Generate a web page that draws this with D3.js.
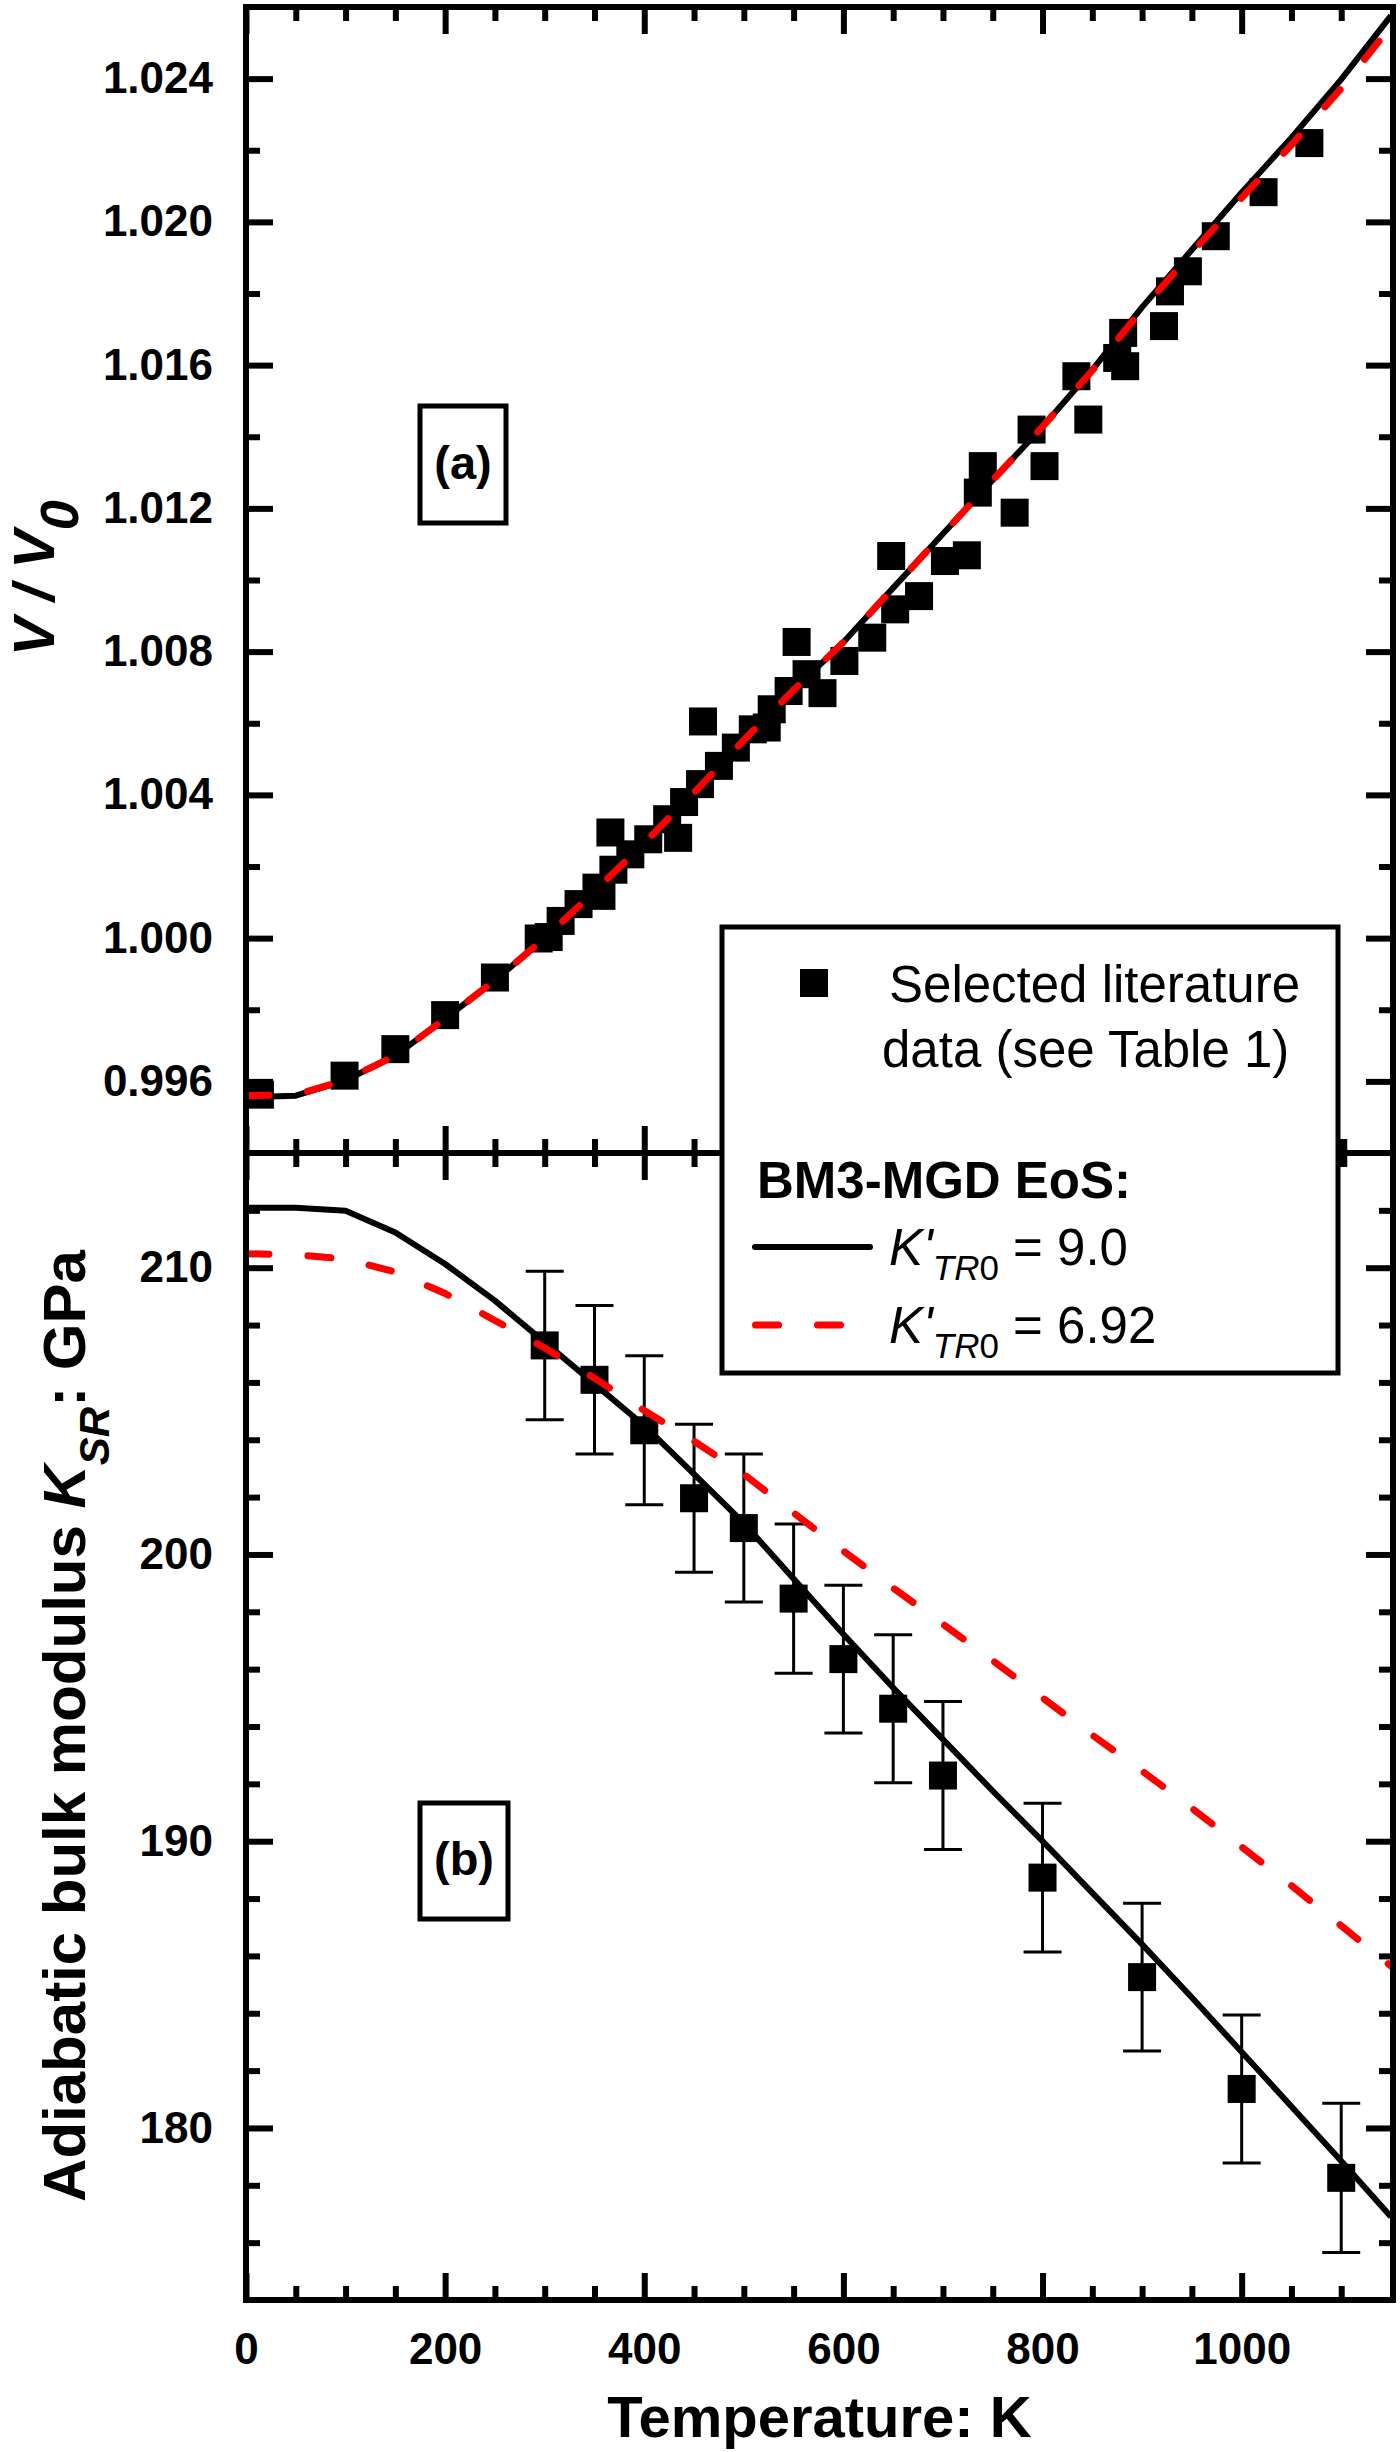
<!DOCTYPE html>
<html><head><meta charset="utf-8">
<script src="https://cdn.jsdelivr.net/npm/d3@7"></script>
<style>html,body{margin:0;padding:0;background:#fff}</style>
</head><body>
<svg id="chart" width="1400" height="2452"></svg>
<script>
// ---------------- data ----------------
const curveT = [0,50,100,150,200,250,300,350,400,450,500,550,600,650,700,750,800,850,900,950,1000,1050,1100,1150];
// V/V0 model curves
const fitV_K90  = [0.99556,0.99560,0.99603,0.99672,0.99775,0.99882,1.00000,1.00130,1.00266,1.00406,1.00553,1.00693,1.00826,1.00978,1.01129,1.01279,1.01428,1.01587,1.01762,1.01922,1.02082,1.02235,1.02398,1.02576];
const fitV_K692 = [0.99560,0.99562,0.99604,0.99672,0.99775,0.99882,1.00000,1.00130,1.00266,1.00406,1.00553,1.00693,1.00826,1.00978,1.01129,1.01279,1.01428,1.01585,1.01755,1.01914,1.02067,1.02215,1.02373,1.02546];
// K_SR model curves (GPa)
const fitK_K90  = [212.09,212.09,211.99,211.23,210.13,208.85,207.40,205.95,204.49,202.80,201.09,199.15,197.22,195.35,193.55,191.75,190.00,188.20,186.40,184.55,182.65,180.75,178.85,176.90];
const fitK_K692 = [210.49,210.45,210.30,209.85,209.10,208.16,207.20,206.15,205.02,203.95,202.80,201.45,200.12,198.83,197.57,196.30,195.00,193.70,192.45,191.15,189.80,188.45,187.05,185.65];
// selected literature data, V/V0
const litT = [14,99,150,200,250,294,304,316,334,352,357,366,369,386,404,423,434,440,456,459,475,492,509,523,528,545,553,563,579,601,629,648,652,676,702,724,735,740,772,789,802,834,846,875,881,883,922,928,946,974,1022,1068,1092];
const litV = [0.99563,0.99616,0.99690,0.99785,0.99890,0.99999,1.00003,1.00048,1.00095,1.00141,1.00118,1.00295,1.00191,1.00234,1.00276,1.00332,1.00280,1.00380,1.00430,1.00605,1.00481,1.00532,1.00583,1.00588,1.00639,1.00690,1.00827,1.00737,1.00684,1.00774,1.00839,1.01067,1.00918,1.00955,1.01053,1.01069,1.01244,1.01318,1.01188,1.01420,1.01318,1.01569,1.01448,1.01620,1.01690,1.01597,1.01709,1.01806,1.01862,1.01960,1.02083,1.02220,0.99400];
// adiabatic bulk modulus data
const ksT   = [300,350,400,450,500,550,600,650,700,800,900,1000,1100];
const ksK   = [207.29,206.09,204.33,201.96,200.92,198.46,196.35,194.62,192.29,188.73,185.26,181.36,178.26];
const ksErr = [2.59,2.59,2.60,2.58,2.58,2.60,2.58,2.58,2.58,2.59,2.58,2.58,2.60];
// ticks
const xMajor = [0,200,400,600,800,1000];
const xMinor = [50,100,150,250,300,350,450,500,550,650,700,750,850,900,950,1050,1100];
const yAMajor = [0.996,1.000,1.004,1.008,1.012,1.016,1.020,1.024];
const yAMinor = [0.998,1.002,1.006,1.010,1.014,1.018,1.022];
const yBMajor = [180,190,200,210];
const yBMinor = [176,178,182,184,186,188,192,194,196,198,202,204,206,208,212];

// ---------------- setup ----------------
const FONT = "'Liberation Sans', Arial, Helvetica, sans-serif";
const svg = d3.select('#chart');
svg.append('rect').attr('width',1400).attr('height',2452).attr('fill','#fff');

const L = 246, R = 1393, TOP = 7, MID = 1153, BOT = 2300;
const x  = d3.scaleLinear().domain([0,1152]).range([L,R]);
const yA = d3.scaleLinear().domain([0.994,1.026]).range([MID,TOP]);
const yB = d3.scaleLinear().domain([174,214]).range([BOT,MID]);

const defs = svg.append('defs');
defs.append('clipPath').attr('id','clipA').append('rect').attr('x',L).attr('y',TOP).attr('width',R-L).attr('height',MID-TOP);
defs.append('clipPath').attr('id','clipB').append('rect').attr('x',L).attr('y',MID).attr('width',R-L).attr('height',BOT-MID);

const MS = 28; // marker size

// ---------------- panel (a) ----------------
const gA = svg.append('g');
gA.selectAll('rect.pt').data(litT.map((t,i)=>[t,litV[i]])).join('rect')
  .attr('class','pt')
  .attr('x',d=>x(d[0])-MS/2).attr('y',d=>yA(d[1])-MS/2)
  .attr('width',MS).attr('height',MS).attr('fill','#000');

const lineA = d3.line().x(d=>x(d[0])).y(d=>yA(d[1]));
gA.append('path').attr('clip-path','url(#clipA)')
  .attr('d',lineA(curveT.map((t,i)=>[t,fitV_K90[i]])))
  .attr('fill','none').attr('stroke','#000').attr('stroke-width',6).attr('stroke-linejoin','round');
gA.append('path').attr('clip-path','url(#clipA)')
  .attr('d',lineA(curveT.map((t,i)=>[t,fitV_K692[i]])))
  .attr('fill','none').attr('stroke','#ff0000').attr('stroke-width',7)
  .attr('stroke-dasharray','23,39').attr('stroke-linecap','round');

// ---------------- panel (b) ----------------
const gB = svg.append('g');
const ksData = ksT.map((t,i)=>({t, k:ksK[i], e:ksErr[i]}));
const eb = gB.selectAll('g.eb').data(ksData).join('g').attr('class','eb')
  .attr('stroke','#000').attr('stroke-width',3);
eb.append('line').attr('x1',d=>x(d.t)).attr('x2',d=>x(d.t)).attr('y1',d=>yB(d.k+d.e)).attr('y2',d=>yB(d.k-d.e));
eb.append('line').attr('x1',d=>x(d.t)-19).attr('x2',d=>x(d.t)+19).attr('y1',d=>yB(d.k+d.e)).attr('y2',d=>yB(d.k+d.e));
eb.append('line').attr('x1',d=>x(d.t)-19).attr('x2',d=>x(d.t)+19).attr('y1',d=>yB(d.k-d.e)).attr('y2',d=>yB(d.k-d.e));
gB.selectAll('rect.pt').data(ksData).join('rect').attr('class','pt')
  .attr('x',d=>x(d.t)-MS/2).attr('y',d=>yB(d.k)-MS/2)
  .attr('width',MS).attr('height',MS).attr('fill','#000');

const lineB = d3.line().x(d=>x(d[0])).y(d=>yB(d[1]));
gB.append('path').attr('clip-path','url(#clipB)')
  .attr('d',lineB(curveT.map((t,i)=>[t,fitK_K90[i]])))
  .attr('fill','none').attr('stroke','#000').attr('stroke-width',6).attr('stroke-linejoin','round');
gB.append('path').attr('clip-path','url(#clipB)')
  .attr('d',lineB(curveT.map((t,i)=>[t,fitK_K692[i]])))
  .attr('fill','none').attr('stroke','#ff0000').attr('stroke-width',7)
  .attr('stroke-dasharray','23,39').attr('stroke-linecap','round');

// ---------------- axes ----------------
function drawAxis(gen, tr, labels){
  const g = svg.append('g').attr('transform',tr).call(gen);
  g.select('.domain').remove();
  g.selectAll('.tick line').attr('stroke','#000').attr('stroke-width',6);
  g.selectAll('.tick text').attr('font-family',FONT).attr('font-size',44)
    .attr('font-weight','bold').attr('fill','#000');
  if(!labels) g.selectAll('.tick text').remove();
  return g;
}
const MJ = 27, MN = 14;
// panel a
drawAxis(d3.axisLeft(yA).tickValues(yAMajor).tickSize(-MJ).tickPadding(33).tickFormat(d3.format('.3f')), `translate(${L},0)`, true);
drawAxis(d3.axisLeft(yA).tickValues(yAMinor).tickSize(-MN), `translate(${L},0)`, false);
drawAxis(d3.axisRight(yA).tickValues(yAMajor).tickSize(-MJ), `translate(${R},0)`, false);
drawAxis(d3.axisRight(yA).tickValues(yAMinor).tickSize(-MN), `translate(${R},0)`, false);
drawAxis(d3.axisTop(x).tickValues(xMajor).tickSize(-MJ), `translate(0,${TOP})`, false);
drawAxis(d3.axisTop(x).tickValues(xMinor).tickSize(-MN), `translate(0,${TOP})`, false);
drawAxis(d3.axisBottom(x).tickValues(xMajor).tickSize(-MJ), `translate(0,${MID})`, false);
drawAxis(d3.axisBottom(x).tickValues(xMinor).tickSize(-MN), `translate(0,${MID})`, false);
// panel b
drawAxis(d3.axisLeft(yB).tickValues(yBMajor).tickSize(-MJ).tickPadding(33).tickFormat(d3.format('d')), `translate(${L},0)`, true);
drawAxis(d3.axisLeft(yB).tickValues(yBMinor).tickSize(-MN), `translate(${L},0)`, false);
drawAxis(d3.axisRight(yB).tickValues(yBMajor).tickSize(-MJ), `translate(${R},0)`, false);
drawAxis(d3.axisRight(yB).tickValues(yBMinor).tickSize(-MN), `translate(${R},0)`, false);
drawAxis(d3.axisTop(x).tickValues(xMajor).tickSize(-MJ), `translate(0,${MID})`, false);
drawAxis(d3.axisTop(x).tickValues(xMinor).tickSize(-MN), `translate(0,${MID})`, false);
drawAxis(d3.axisBottom(x).tickValues(xMajor).tickSize(-MJ).tickPadding(33).tickFormat(d3.format('d')), `translate(0,${BOT})`, true);
drawAxis(d3.axisBottom(x).tickValues(xMinor).tickSize(-MN), `translate(0,${BOT})`, false);

// frame
const frame = svg.append('g').attr('stroke','#000').attr('stroke-width',6).attr('stroke-linecap','square');
frame.append('line').attr('x1',L).attr('x2',L).attr('y1',TOP).attr('y2',BOT);
frame.append('line').attr('x1',R).attr('x2',R).attr('y1',TOP).attr('y2',BOT);
frame.append('line').attr('x1',L).attr('x2',R).attr('y1',TOP).attr('y2',TOP);
frame.append('line').attr('x1',L).attr('x2',R).attr('y1',MID).attr('y2',MID);
frame.append('line').attr('x1',L).attr('x2',R).attr('y1',BOT).attr('y2',BOT);

// ---------------- axis titles ----------------
svg.append('text').attr('x',(L+R)/2).attr('y',2437).attr('text-anchor','middle')
  .attr('font-family',FONT).attr('font-size',58).attr('font-weight','bold').text('Temperature: K');

const tA = svg.append('text').attr('transform','translate(54,578) rotate(-90)').attr('text-anchor','middle')
  .attr('font-family',FONT).attr('font-size',58).attr('font-weight','bold').attr('font-style','italic');
tA.append('tspan').text('V / V');
tA.append('tspan').attr('font-size',54).attr('dy',24).text('0');

const tB = svg.append('text').attr('transform','translate(85,1726) rotate(-90)').attr('text-anchor','middle')
  .attr('font-family',FONT).attr('font-size',60).attr('font-weight','bold');
tB.append('tspan').text('Adiabatic bulk modulus ');
tB.append('tspan').attr('font-style','italic').text('K');
tB.append('tspan').attr('font-style','italic').attr('font-size',42).attr('dy',24).text('SR');
tB.append('tspan').attr('dy',-24).text(': GPa');

// ---------------- panel labels ----------------
function panelLabel(x0,y0,w,h,txt){
  svg.append('rect').attr('x',x0).attr('y',y0).attr('width',w).attr('height',h)
    .attr('fill','none').attr('stroke','#000').attr('stroke-width',5);
  svg.append('text').attr('x',x0+w/2).attr('y',y0+h/2+14).attr('text-anchor','middle')
    .attr('font-family',FONT).attr('font-size',47).attr('font-weight','bold').text(txt);
}
panelLabel(420,406,86,117,'(a)');
panelLabel(420,1803,88,116,'(b)');

// ---------------- legend ----------------
const lg = svg.append('g');
lg.append('rect').attr('x',722).attr('y',927).attr('width',616).attr('height',446)
  .attr('fill','#fff').attr('stroke','#000').attr('stroke-width',5);
lg.append('rect').attr('x',814-MS/2).attr('y',983-MS/2).attr('width',MS).attr('height',MS).attr('fill','#000');
const lt = (xx,yy,s,opts={})=>{
  const t = lg.append('text').attr('x',xx).attr('y',yy).attr('font-family',FONT).attr('font-size',51);
  if(opts.bold) t.attr('font-weight','bold');
  return t.text(s);
};
lt(889,1002,'Selected literature');
lt(882,1067,'data (see Table 1)');
lt(757,1198,'BM3-MGD EoS:',{bold:true});
lg.append('line').attr('x1',755).attr('x2',870).attr('y1',1247).attr('y2',1247)
  .attr('stroke','#000').attr('stroke-width',6).attr('stroke-linecap','round');
lg.append('line').attr('x1',755.5).attr('x2',842.5).attr('y1',1325).attr('y2',1325)
  .attr('stroke','#ff0000').attr('stroke-width',7).attr('stroke-dasharray','23,39').attr('stroke-linecap','round');
function kLabel(yy,val){
  const t = lg.append('text').attr('x',889).attr('y',yy).attr('font-family',FONT).attr('font-size',51);
  t.append('tspan').attr('font-style','italic').text("K'");
  t.append('tspan').attr('font-style','italic').attr('font-size',35).attr('dy',15).text('TR');
  t.append('tspan').attr('font-size',35).text('0');
  t.append('tspan').attr('dy',-15).text(' = ' + val);
}
kLabel(1265,'9.0');
kLabel(1343,'6.92');
</script>
</body></html>
